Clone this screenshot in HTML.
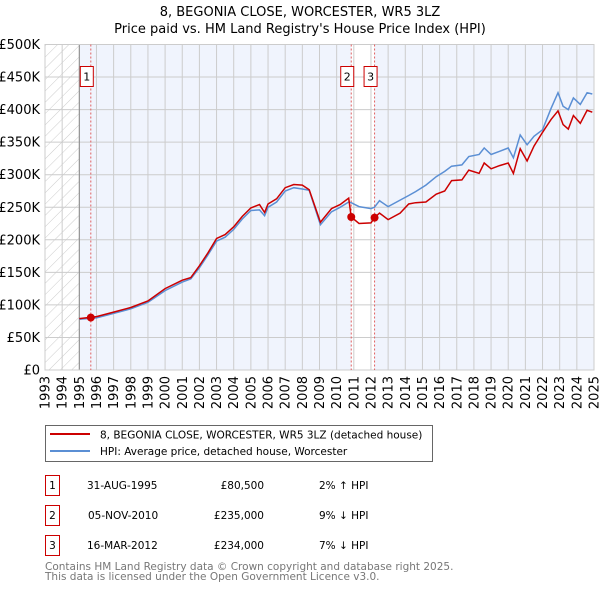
<!DOCTYPE html>
<html><head><meta charset="utf-8"><style>
body{margin:0;background:#fff;font-family:"Liberation Sans","DejaVu Sans",sans-serif}
svg text{font-family:"DejaVu Sans","Liberation Sans",sans-serif}
</style></head><body>
<svg id="c" width="600" height="590" viewBox="0 0 600 590" xmlns="http://www.w3.org/2000/svg">
<defs><pattern id="h" width="8" height="8" patternUnits="userSpaceOnUse" patternTransform="rotate(45)"><line x1="0" y1="0" x2="0" y2="8" stroke="#ccc" stroke-width="1"/></pattern></defs>
<text x="300" y="16" text-anchor="middle" font-size="13">8, BEGONIA CLOSE, WORCESTER, WR5 3LZ</text>
<text x="300" y="33" text-anchor="middle" font-size="13">Price paid vs. HM Land Registry's House Price Index (HPI)</text>
<g id="plot"></g>
<g>
<rect x="45.5" y="425.5" width="387" height="36" fill="#fff" stroke="#666"/>
<line x1="50" y1="434" x2="90" y2="434" stroke="#cc0000" stroke-width="2"/>
<text x="100" y="438.5" font-size="10.5">8, BEGONIA CLOSE, WORCESTER, WR5 3LZ (detached house)</text>
<line x1="50" y1="451" x2="90" y2="451" stroke="#5b8fd4" stroke-width="2"/>
<text x="100" y="455" font-size="10.5">HPI: Average price, detached house, Worcester</text>
</g>
<g font-size="10.5">
<rect x="45.5" y="475.5" width="14" height="20" fill="#fff" stroke="#cc0000"/><text x="52.5" y="489" text-anchor="middle">1</text>
<text x="87" y="489">31-AUG-1995</text><text x="264" y="489" text-anchor="end">£80,500</text><text x="319" y="489">2% ↑ HPI</text>
<rect x="45.5" y="505.5" width="14" height="20" fill="#fff" stroke="#cc0000"/><text x="52.5" y="519" text-anchor="middle">2</text>
<text x="88" y="519">05-NOV-2010</text><text x="264" y="519" text-anchor="end">£235,000</text><text x="319" y="519">9% ↓ HPI</text>
<rect x="45.5" y="535.5" width="14" height="20" fill="#fff" stroke="#cc0000"/><text x="52.5" y="549" text-anchor="middle">3</text>
<text x="87" y="549">16-MAR-2012</text><text x="264" y="549" text-anchor="end">£234,000</text><text x="319" y="549">7% ↓ HPI</text>
</g>
<text x="45" y="570" font-size="10.5" fill="#777">Contains HM Land Registry data © Crown copyright and database right 2025.</text>
<text x="45" y="580" font-size="10.5" fill="#777">This data is licensed under the Open Government Licence v3.0.</text>
</svg>
<script>
const years=[1995,1996,1997,1998,1999,2000,2001,2001.5,2002,2002.5,2003,2003.5,2004,2004.5,2005,2005.5,2005.8,2006,2006.5,2007,2007.5,2008,2008.4,2009.05,2009.7,2010.2,2010.7,2010.85,2011.3,2012.0,2012.2,2012.5,2013.0,2013.7,2014.2,2014.6,2015.2,2015.8,2016.3,2016.7,2017.3,2017.7,2018.3,2018.6,2019.0,2019.5,2020.0,2020.3,2020.7,2021.1,2021.5,2022.0,2022.5,2022.9,2023.2,2023.5,2023.8,2024.2,2024.6,2024.9];
const propertyValues=[79,82,89,96,106,125,138,142,160,180,202,208,220,236,249,254,242,255,263,280,285,284,277,227,248,254,264,235,225,226,234,241,231,241,255,257,258,270,275,291,292,307,302,318,309,314,318,302,340,321,344,365,385,398,377,370,391,379,399,396];
const hpiValues=[78,80,87,94,104,122,135,140,157,177,198,204,216,232,245,246,237,250,258,275,280,278,276,223,243,250,258,257,251,248,250,260,251,261,268,274,284,297,305,313,315,328,331,341,331,336,341,326,361,346,359,369,402,426,405,400,418,408,426,424];
const saleYears=[1995.67,2010.85,2012.21];
const salePrices=[80.5,235,234];
const saleLabels=['1','2','3'];
const yTicks=[0,50,100,150,200,250,300,350,400,450,500];
const yTickLabels=['£0','£50K','£100K','£150K','£200K','£250K','£300K','£350K','£400K','£450K','£500K'];
const xTicks=[1993,1994,1995,1996,1997,1998,1999,2000,2001,2002,2003,2004,2005,2006,2007,2008,2009,2010,2011,2012,2013,2014,2015,2016,2017,2018,2019,2020,2021,2022,2023,2024,2025];

const L=45,R=594,T=44.5,B=370;
const X=y=>L+(y-1993)/(2025-1993)*(R-L);
const Y=v=>B-v/500*(B-T);
const NS='http://www.w3.org/2000/svg';
const g=document.getElementById('plot');
function mk(t,a){const e=document.createElementNS(NS,t);for(const k in a)e.setAttribute(k,a[k]);g.appendChild(e);return e;}
let e;
e=mk('rect',{x:X(1995),y:T,width:R-X(1995),height:B-T,fill:'#f0f4fd'});


e=mk('rect',{x:X(saleYears[1]),y:T,width:X(saleYears[2])-X(saleYears[1]),height:B-T,fill:'#fff'});


e=mk('rect',{x:L,y:T,width:X(1995)-L,height:B-T,fill:'url(#h)'});


yTicks.forEach((v,i)=>{
 e=mk('line',{x1:L,x2:R,y1:Y(v),y2:Y(v),stroke:'#ccc','stroke-width':1});
 
 
 e=mk('text',{x:40,y:Y(v)+4.5,'text-anchor':'end','font-size':13});
 e.textContent=yTickLabels[i];
 
 
});
xTicks.forEach(yr=>{
 e=mk('line',{x1:X(yr),x2:X(yr),y1:T,y2:B,stroke:'#ccc','stroke-width':1});
 
 
 e=mk('text',{transform:`translate(${X(yr)+4.5},376) rotate(-90)`,'text-anchor':'end','font-size':13});
 e.textContent=yr;
 
 
});
e=mk('line',{x1:X(1995),x2:X(1995),y1:T,y2:B,stroke:'#888','stroke-width':1});


e=mk('rect',{x:L,y:T,width:R-L,height:B-T,fill:'none',stroke:'#ccc'});


saleYears.forEach((yr,i)=>{
 e=mk('line',{x1:X(yr),x2:X(yr),y1:T,y2:B,stroke:'#e06060','stroke-width':1,'stroke-dasharray':'2,2'});
 
 
});
const pts=a=>years.map((y,i)=>X(y).toFixed(1)+','+Y(a[i]).toFixed(1)).join(' ');
e=mk('polyline',{points:pts(hpiValues),fill:'none',stroke:'#5b8fd4','stroke-width':1.5});


e=mk('polyline',{points:pts(propertyValues),fill:'none',stroke:'#cc0000','stroke-width':1.5});


saleYears.forEach((yr,i)=>{
 e=mk('circle',{cx:X(yr),cy:Y(salePrices[i]),r:4,fill:'#cc0000'});
 
 
 const bx=X(yr)-11;
 e=mk('rect',{x:bx+0.5,y:66.5,width:13,height:20,fill:'#fff',stroke:'#cc0000'});
 
 
 e=mk('text',{x:bx+7,y:80.5,'text-anchor':'middle','font-size':11});
 e.textContent=saleLabels[i];
 
 
});
</script>
</body></html>
